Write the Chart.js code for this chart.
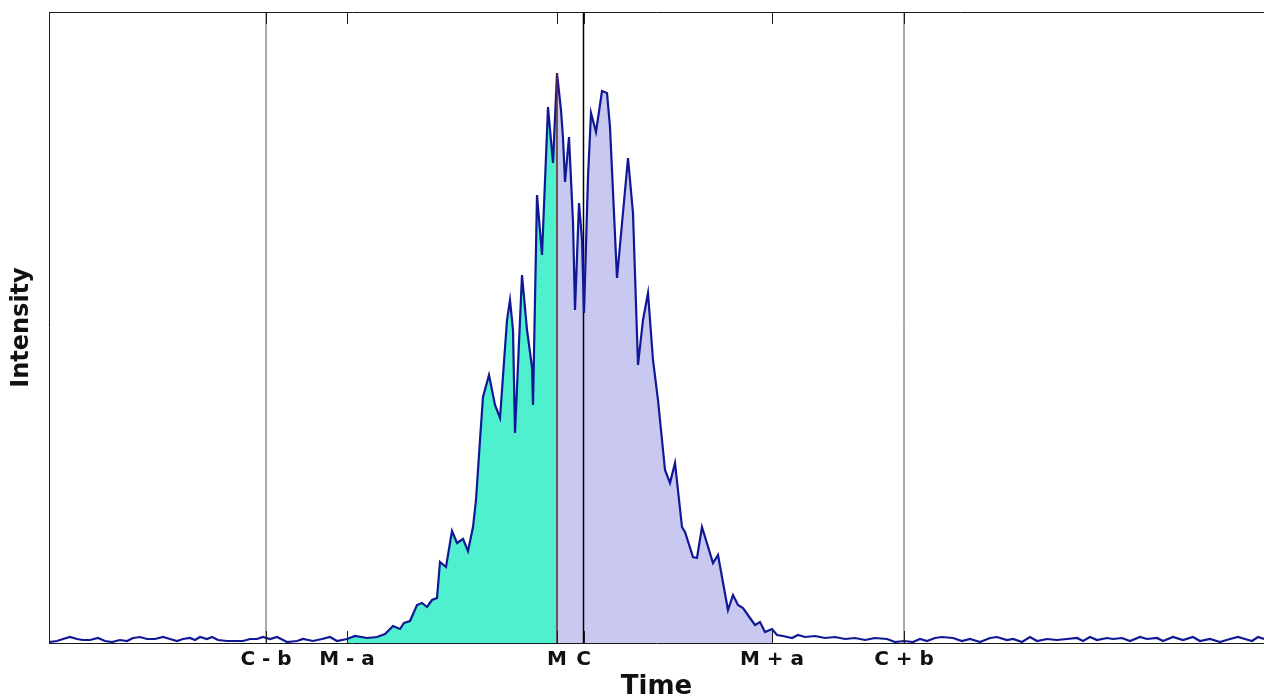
<!DOCTYPE html>
<html>
<head>
<meta charset="utf-8">
<script src="https://cdn.jsdelivr.net/npm/chart.js@4.4.0/dist/chart.umd.min.js"></script>
<style>
  html, body { margin: 0; padding: 0; background: #fff; }
  canvas { display: block; }
</style>
</head>
<body>
<canvas id="peakChart" width="1264" height="700"></canvas>
<script>
// Time axis (arbitrary units) and measured intensity of the trace
const TIME = [
  0, 8, 14, 21, 28, 34, 41, 49, 56, 63, 71, 78, 84, 91, 98, 106, 114, 121, 128, 134,
  141, 146, 151, 158, 163, 169, 178, 188, 194, 201, 208, 214, 221, 228, 238, 248, 254, 264, 273, 281,
  288, 298, 306, 318, 328, 336, 344, 351, 355, 361, 368, 373, 378, 383, 388, 391, 397, 403, 408, 414,
  419, 424, 427, 431, 434, 440, 446, 451, 458, 461, 464, 466, 473, 478, 483, 484, 488, 493, 499, 504,
  508, 512, 514, 516, 520, 524, 526, 530, 533, 535, 539, 542, 547, 553, 558, 561, 568, 579, 584, 589,
  594, 599, 604, 609, 616, 621, 626, 633, 636, 644, 648, 653, 664, 669, 679, 684, 689, 694, 701, 706,
  711, 716, 723, 728, 734, 743, 749, 756, 766, 776, 786, 796, 806, 816, 826, 838, 846, 855, 864, 871,
  878, 886, 893, 904, 913, 921, 931, 941, 948, 958, 964, 973, 981, 988, 998, 1008, 1018, 1028, 1034, 1041,
  1048, 1058, 1064, 1073, 1081, 1091, 1098, 1108, 1114, 1124, 1134, 1144, 1151, 1161, 1171, 1181, 1189, 1196, 1203, 1209,
  1215
];
const INTENSITY = [
  1, 2, 4, 6, 4, 3, 3, 5, 2, 1, 3, 2, 5, 6, 4, 4, 6, 4, 2, 4,
  5, 3, 6, 4, 6, 3, 2, 2, 2, 4, 4, 6, 4, 6, 1, 2, 4, 2, 4, 6,
  2, 4, 7, 5, 6, 9, 17, 14, 20, 22, 38, 40, 36, 43, 45, 81, 76, 112, 100, 104,
  92, 116, 143, 203, 246, 268, 238, 225, 323, 343, 313, 210, 368, 313, 276, 238, 448, 388, 536, 480,
  570, 533, 505, 461, 506, 421, 333, 440, 403, 330, 466, 530, 511, 552, 550, 516, 365, 485, 430, 278,
  323, 350, 283, 243, 173, 160, 180, 116, 111, 86, 85, 116, 80, 88, 33, 48, 38, 35, 25, 18,
  21, 11, 14, 8, 7, 5, 8, 6, 7, 5, 6, 4, 5, 3, 5, 4, 1, 2, 1, 4,
  2, 5, 6, 5, 2, 4, 1, 5, 6, 3, 4, 1, 6, 2, 4, 3, 4, 5, 2, 6,
  3, 5, 4, 5, 2, 6, 4, 5, 2, 6, 3, 6, 2, 4, 1, 4, 6, 4, 2, 6,
  4
];

// Axis marks
const TICK_POS = [217, 298, 508, 534.5, 723, 855];
const TICK_LABELS = ["C - b", "M - a", "M", "C", "M + a", "C + b"];
const M_POS = 508, M_A_LOW = 298, M_A_HIGH = 723;
const C_LINES = [217, 534.5, 855];   // C - b, C, C + b
const X_MAX = 1215;
const Y_MAX = 631;

// split the trace into the two shaded parts
const pts = TIME.map((t, i) => ({ x: t, y: INTENSITY[i] }));
const leftPart = pts.filter(p => p.x >= M_A_LOW && p.x <= M_POS);
const rightPart = pts.filter(p => p.x >= M_POS && p.x <= M_A_HIGH);
const mPeak = INTENSITY[TIME.indexOf(M_POS)];

const vline = (x, top, color, width) => ({
  data: [{ x: x, y: 0 }, { x: x, y: top }],
  borderColor: color,
  borderWidth: width,
  pointRadius: 0,
  fill: false,
  order: 2,
});

// top edge, left/bottom edges and inward ticks, MATLAB style
const boxPlugin = {
  id: "box",
  afterDatasetsDraw(chart) {
    const { ctx, chartArea: a, scales: { x } } = chart;
    ctx.save();
    ctx.strokeStyle = "#1a1a1a";
    ctx.lineWidth = 1;
    ctx.beginPath();
    ctx.moveTo(a.left, a.top + 0.5);
    ctx.lineTo(a.right, a.top + 0.5);
    ctx.moveTo(a.left + 0.5, a.top);
    ctx.lineTo(a.left + 0.5, a.bottom);
    ctx.moveTo(a.left, a.bottom + 0.5);
    ctx.lineTo(a.right, a.bottom + 0.5);
    TICK_POS.forEach(v => {
      const px = Math.round(x.getPixelForValue(v)) + 0.5;
      ctx.moveTo(px, a.top);
      ctx.lineTo(px, a.top + 12);
      ctx.moveTo(px, a.bottom);
      ctx.lineTo(px, a.bottom - 12);
    });
    ctx.stroke();
    ctx.restore();
  },
};

const font = "'DejaVu Sans', sans-serif";

new Chart(document.getElementById("peakChart"), {
  type: "line",
  data: {
    datasets: [
      {
        data: leftPart,
        borderWidth: 0,
        pointRadius: 0,
        backgroundColor: "rgb(78, 240, 206)",
        fill: "origin",
        order: 5,
      },
      {
        data: rightPart,
        borderWidth: 0,
        pointRadius: 0,
        backgroundColor: "rgb(200, 200, 240)",
        fill: "origin",
        order: 5,
      },
      vline(C_LINES[0], Y_MAX, "#555555", 1),
      vline(C_LINES[1], Y_MAX, "#000000", 1.5),
      vline(C_LINES[2], Y_MAX, "#555555", 1),
      {
        data: pts,
        borderColor: "rgb(16, 24, 150)",
        borderWidth: 2.2,
        pointRadius: 0,
        fill: false,
        tension: 0,
        order: 1,
      },
      Object.assign(vline(M_POS, mPeak, "#6e2222", 1.5), { order: 0 }),
    ],
  },
  options: {
    responsive: false,
    animation: false,
    devicePixelRatio: 1,
    layout: { padding: { top: 12, left: 0, right: 0, bottom: 0 } },
    plugins: { legend: { display: false }, tooltip: { enabled: false } },
    scales: {
      x: {
        type: "linear",
        min: 0,
        max: X_MAX,
        grid: { display: false, drawTicks: false },
        border: { display: false },
        afterBuildTicks: s => { s.ticks = TICK_POS.map(v => ({ value: v })); },
        afterFit: s => { s.height = 57; },
        ticks: {
          autoSkip: false,
          maxRotation: 0,
          minRotation: 0,
          padding: 5,
          color: "#111",
          font: { family: font, size: 20, weight: "bold" },
          callback: (v, i) => TICK_LABELS[i],
        },
        title: {
          display: true,
          text: "Time",
          color: "#111",
          padding: { top: 0, bottom: 0 },
          font: { family: font, size: 26, weight: "bold", lineHeight: 1 },
        },
      },
      y: {
        min: 0,
        max: Y_MAX,
        grid: { display: false, drawTicks: false },
        border: { display: false },
        ticks: { display: false },
        afterFit: s => { s.width = 49; },
        title: {
          display: true,
          text: "Intensity",
          color: "#111",
          padding: { top: 10, bottom: 0 },
          font: { family: font, size: 24, weight: "bold", lineHeight: 1 },
        },
      },
    },
  },
  plugins: [boxPlugin],
});
</script>
</body>
</html>
